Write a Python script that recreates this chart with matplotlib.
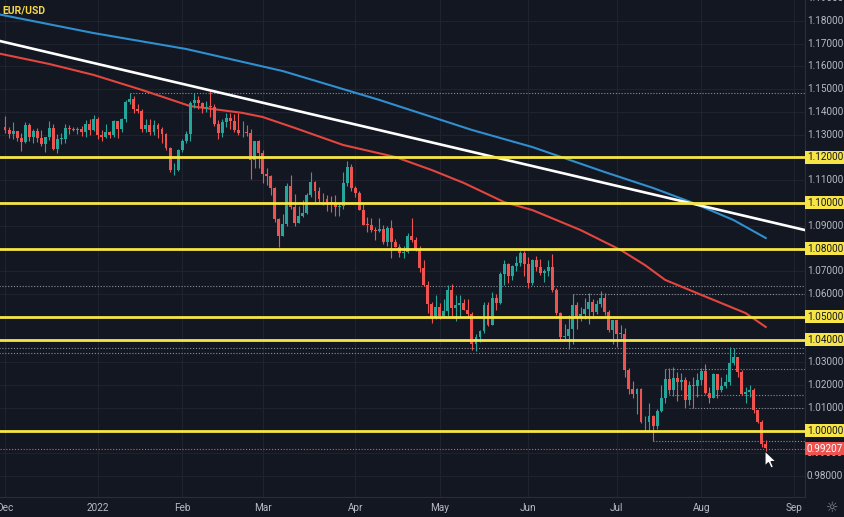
import numpy as np
import pandas as pd
import matplotlib
matplotlib.use("Agg")
import matplotlib.pyplot as plt
from matplotlib.patches import Rectangle, Polygon
from matplotlib.transforms import blended_transform_factory

# ---------------- data (EUR/USD daily) ----------------
dates = pd.bdate_range("2021-12-01", "2022-08-23")

opens = [
    1.1336, 1.1320, 1.1303, 1.1316, 1.1286, 1.1270, 1.1343, 1.1292, 1.1316, 1.1284,
    1.1258, 1.1289, 1.1330, 1.1238, 1.1282, 1.1283, 1.1329, 1.1326, 1.1319, 1.1327,
    1.1310, 1.1349, 1.1323,
    1.1370, 1.1297, 1.1288, 1.1312, 1.1297, 1.1359, 1.1325, 1.1368, 1.1443, 1.1455,
    1.1414, 1.1406, 1.1325, 1.1343, 1.1311, 1.1345, 1.1324, 1.1303, 1.1241, 1.1143,
    1.1146,
    1.1234, 1.1271, 1.1303, 1.1441, 1.1451, 1.1440, 1.1417, 1.1424, 1.1423, 1.1349,
    1.1307, 1.1358, 1.1375, 1.1361, 1.1321, 1.1307, 1.1309, 1.1308, 1.1191, 1.1272,
    1.1219, 1.1126, 1.1118, 1.1064, 1.0929, 1.0855, 1.0906, 1.1076, 1.0984, 1.0912,
    1.0942, 1.0955, 1.1036, 1.1093, 1.1051, 1.1017, 1.1016, 1.1005, 1.0996, 1.0983,
    1.0985, 1.1088, 1.1158,
    1.1067, 1.1046, 1.0971, 1.0904, 1.0903, 1.0880, 1.0877, 1.0886, 1.0829, 1.0890,
    1.0827, 1.0808, 1.0780, 1.0786, 1.0855, 1.0836, 1.0796, 1.0715, 1.0641, 1.0558,
    1.0496,
    1.0545, 1.0504, 1.0525, 1.0617, 1.0540, 1.0550, 1.0562, 1.0529, 1.0513, 1.0381,
    1.0413, 1.0436, 1.0552, 1.0465, 1.0584, 1.0562, 1.0690, 1.0733, 1.0677, 1.0725,
    1.0735, 1.0780,
    1.0733, 1.0648, 1.0749, 1.0719, 1.0694, 1.0703, 1.0717, 1.0616, 1.0518, 1.0410,
    1.0414, 1.0446, 1.0551, 1.0494, 1.0513, 1.0535, 1.0567, 1.0521, 1.0554, 1.0583,
    1.0519, 1.0443,
    1.0484, 1.0425, 1.0425, 1.0265, 1.0182, 1.0162, 1.0184, 1.0036, 1.0037, 1.0063,
    1.0019, 1.0085, 1.0141, 1.0226, 1.0178, 1.0230, 1.0212, 1.0221, 1.0134, 1.0199,
    1.0195,
    1.0220, 1.0261, 1.0163, 1.0143, 1.0248, 1.0180, 1.0196, 1.0211, 1.0298, 1.0321,
    1.0259, 1.0159, 1.0171, 1.0178, 1.0088, 1.0037, 0.9942,
]
highs = [
    1.1383, 1.1334, 1.1354, 1.1318, 1.1306, 1.1355, 1.1352, 1.1326, 1.1329, 1.1321,
    1.1291, 1.1360, 1.1346, 1.1303, 1.1306, 1.1346, 1.1342, 1.1336, 1.1336, 1.1339,
    1.1367, 1.1369, 1.1386,
    1.1376, 1.1322, 1.1346, 1.1316, 1.1364, 1.1362, 1.1375, 1.1454, 1.1482, 1.1469,
    1.1436, 1.1413, 1.1369, 1.1370, 1.1364, 1.1350, 1.1335, 1.1306, 1.1245, 1.1174,
    1.1238,
    1.1280, 1.1315, 1.1450, 1.1483, 1.1471, 1.1446, 1.1449, 1.1495, 1.1433, 1.1367,
    1.1368, 1.1395, 1.1394, 1.1390, 1.1396, 1.1361, 1.1344, 1.1324, 1.1273, 1.1275,
    1.1233, 1.1152, 1.1125, 1.1070, 1.0932, 1.0952, 1.1090, 1.1121, 1.1040, 1.0987,
    1.1014, 1.1044, 1.1137, 1.1097, 1.1070, 1.1042, 1.1033, 1.1031, 1.1036, 1.0998,
    1.1137, 1.1185, 1.1171,
    1.1076, 1.1053, 1.0994, 1.0937, 1.0935, 1.0893, 1.0935, 1.0903, 1.0897, 1.0924,
    1.0840, 1.0819, 1.0811, 1.0866, 1.0936, 1.0850, 1.0809, 1.0748, 1.0656, 1.0567,
    1.0594,
    1.0560, 1.0576, 1.0641, 1.0642, 1.0594, 1.0595, 1.0578, 1.0579, 1.0522, 1.0422,
    1.0441, 1.0563, 1.0566, 1.0607, 1.0600, 1.0697, 1.0748, 1.0737, 1.0728, 1.0765,
    1.0787, 1.0787,
    1.0764, 1.0754, 1.0765, 1.0752, 1.0709, 1.0749, 1.0774, 1.0628, 1.0520, 1.0470,
    1.0506, 1.0602, 1.0563, 1.0545, 1.0583, 1.0606, 1.0578, 1.0572, 1.0615, 1.0606,
    1.0531, 1.0486,
    1.0487, 1.0463, 1.0449, 1.0275, 1.0216, 1.0188, 1.0185, 1.0062, 1.0121, 1.0069,
    1.0096, 1.0200, 1.0269, 1.0273, 1.0279, 1.0257, 1.0254, 1.0236, 1.0219, 1.0234,
    1.0254,
    1.0274, 1.0294, 1.0191, 1.0254, 1.0250, 1.0233, 1.0248, 1.0368, 1.0364, 1.0324,
    1.0267, 1.0190, 1.0202, 1.0188, 1.0090, 1.0045, 0.9960,
]
lows = [
    1.1307, 1.1285, 1.1281, 1.1272, 1.1227, 1.1263, 1.1273, 1.1262, 1.1270, 1.1250,
    1.1222, 1.1278, 1.1235, 1.1221, 1.1260, 1.1264, 1.1305, 1.1315, 1.1305, 1.1295,
    1.1289, 1.1300, 1.1317,
    1.1280, 1.1272, 1.1286, 1.1285, 1.1291, 1.1285, 1.1314, 1.1355, 1.1437, 1.1397,
    1.1395, 1.1314, 1.1310, 1.1300, 1.1300, 1.1286, 1.1264, 1.1235, 1.1135, 1.1121,
    1.1139,
    1.1222, 1.1265, 1.1271, 1.1418, 1.1411, 1.1395, 1.1402, 1.1376, 1.1340, 1.1280,
    1.1290, 1.1332, 1.1325, 1.1314, 1.1300, 1.1288, 1.1293, 1.1106, 1.1155, 1.1152,
    1.1090, 1.1077, 1.1037, 1.0916, 1.0806, 1.0855, 1.0900, 1.0975, 1.0900, 1.0911,
    1.0937, 1.0952, 1.1028, 1.1003, 1.1000, 1.0993, 1.0964, 1.0961, 1.0945, 1.0945,
    1.0975, 1.1075, 1.1052,
    1.1027, 1.0968, 1.0902, 1.0873, 1.0874, 1.0837, 1.0872, 1.0821, 1.0810, 1.0757,
    1.0805, 1.0761, 1.0757, 1.0779, 1.0829, 1.0787, 1.0697, 1.0637, 1.0515, 1.0471,
    1.0489,
    1.0491, 1.0494, 1.0505, 1.0493, 1.0483, 1.0500, 1.0528, 1.0505, 1.0355, 1.0349,
    1.0389, 1.0427, 1.0459, 1.0462, 1.0531, 1.0557, 1.0641, 1.0647, 1.0662, 1.0699,
    1.0724, 1.0680,
    1.0627, 1.0641, 1.0701, 1.0685, 1.0653, 1.0681, 1.0610, 1.0506, 1.0398, 1.0397,
    1.0358, 1.0382, 1.0444, 1.0481, 1.0491, 1.0469, 1.0495, 1.0514, 1.0543, 1.0507,
    1.0435, 1.0382,
    1.0366, 1.0405, 1.0236, 1.0161, 1.0144, 1.0072, 1.0034, 1.0000, 0.9998, 0.9952,
    1.0006, 1.0080, 1.0123, 1.0160, 1.0153, 1.0130, 1.0180, 1.0097, 1.0112, 1.0097,
    1.0148,
    1.0198, 1.0161, 1.0123, 1.0143, 1.0141, 1.0170, 1.0188, 1.0200, 1.0290, 1.0234,
    1.0154, 1.0123, 1.0148, 1.0079, 1.0035, 0.9926, 0.9900,
]
closes = [
    1.1320, 1.1303, 1.1316, 1.1286, 1.1270, 1.1343, 1.1292, 1.1316, 1.1284, 1.1258,
    1.1289, 1.1330, 1.1238, 1.1282, 1.1283, 1.1329, 1.1326, 1.1319, 1.1327, 1.1310,
    1.1349, 1.1323, 1.1370,
    1.1297, 1.1288, 1.1312, 1.1297, 1.1359, 1.1325, 1.1368, 1.1443, 1.1455, 1.1414,
    1.1406, 1.1325, 1.1343, 1.1311, 1.1345, 1.1324, 1.1303, 1.1241, 1.1143, 1.1146,
    1.1234,
    1.1271, 1.1303, 1.1441, 1.1451, 1.1440, 1.1417, 1.1424, 1.1423, 1.1349, 1.1307,
    1.1358, 1.1375, 1.1361, 1.1321, 1.1307, 1.1309, 1.1308, 1.1191, 1.1272, 1.1219,
    1.1126, 1.1118, 1.1064, 1.0929, 1.0855, 1.0906, 1.1076, 1.0984, 1.0912, 1.0942,
    1.0955, 1.1036, 1.1093, 1.1051, 1.1017, 1.1016, 1.1005, 1.0996, 1.0983, 1.0985,
    1.1088, 1.1158, 1.1067,
    1.1046, 1.0971, 1.0904, 1.0903, 1.0880, 1.0877, 1.0886, 1.0829, 1.0890, 1.0827,
    1.0808, 1.0780, 1.0786, 1.0855, 1.0836, 1.0796, 1.0715, 1.0641, 1.0558, 1.0496,
    1.0545,
    1.0504, 1.0525, 1.0617, 1.0540, 1.0550, 1.0562, 1.0529, 1.0513, 1.0381, 1.0413,
    1.0436, 1.0552, 1.0465, 1.0584, 1.0562, 1.0690, 1.0733, 1.0677, 1.0725, 1.0735,
    1.0780, 1.0733,
    1.0648, 1.0749, 1.0719, 1.0694, 1.0703, 1.0717, 1.0616, 1.0518, 1.0410, 1.0414,
    1.0446, 1.0551, 1.0494, 1.0513, 1.0535, 1.0567, 1.0521, 1.0554, 1.0583, 1.0519,
    1.0443, 1.0484,
    1.0425, 1.0425, 1.0265, 1.0182, 1.0162, 1.0184, 1.0036, 1.0037, 1.0063, 1.0019,
    1.0085, 1.0141, 1.0226, 1.0178, 1.0230, 1.0212, 1.0221, 1.0134, 1.0199, 1.0195,
    1.0220,
    1.0261, 1.0163, 1.0143, 1.0248, 1.0180, 1.0196, 1.0211, 1.0298, 1.0321, 1.0259,
    1.0159, 1.0171, 1.0178, 1.0088, 1.0037, 0.9942, 0.9921,
]

# moving averages at a few bars
ma200_idx = [-2, 22, 45, 69, 93, 116, 131, 149, 161, 171, 181, 189]
ma200_val = [1.1831, 1.1747, 1.1677, 1.1580, 1.1453, 1.1321, 1.1246, 1.1136,
             1.1066, 1.1000, 1.0925, 1.0846]
ma100_idx = [-2, 11, 22, 34, 46, 59, 64, 72, 84, 97, 106, 114, 124, 131, 143,
             153, 159, 164, 173, 184, 189]
ma100_val = [1.1659, 1.1611, 1.1563, 1.1497, 1.1426, 1.1396, 1.1378, 1.1330,
             1.1255, 1.1202, 1.1145, 1.1088, 1.1004, 1.0969, 1.0881, 1.0793,
             1.0727, 1.0662, 1.0596, 1.0516, 1.0455]

trend_idx = [-2, 199]
trend_val = [1.1715, 1.0880]

levels = [1.12, 1.10, 1.08, 1.05, 1.04, 1.00]
dotted_levels = [1.1482, 1.0636, 1.0602, 1.0364, 1.0340, 1.0269, 1.0156, 1.0097, 0.9952]
dotted_from = [31, -2, 141, -2, -2, 164, 165, 170, 161]
last_price = 0.99207

price_ticks = [0.98, 0.99, 1.00, 1.01, 1.02, 1.03, 1.04, 1.05, 1.06, 1.07, 1.08,
               1.09, 1.10, 1.11, 1.12, 1.13, 1.14, 1.15, 1.16, 1.17, 1.18, 1.19]
month_labels = ["Dec", "2022", "Feb", "Mar", "Apr", "May", "Jun", "Jul", "Aug", "Sep"]

# ---------------- style ----------------
BG = "#131722"
GRID = "#1f2330"
TXT = "#b7bac2"
UP = "#26a69a"
DOWN = "#ef5350"
YEL = "#f7e547"
FONT = ["Roboto", "DejaVu Sans"]
FS = 7.2

W, H = 845, 517
fig = plt.figure(figsize=(W / 100, H / 100), dpi=100, facecolor=BG)
ax = fig.add_axes([0, 20 / H, 805 / W, 497 / H], facecolor=BG)

x = np.arange(len(closes))
o = np.array(opens)
c = np.array(closes)
hi = np.array(highs)
lo = np.array(lows)

xmin, xmax = -1.25, 198.75
ax.set_xlim(xmin, xmax)
ax.set_ylim(0.97077, 1.18923)

# grid
for p in price_ticks:
    ax.axhline(p, color=GRID, lw=0.8, zorder=0)
month_pos = []
for m in range(len(month_labels) - 1):
    mon = ((11 + m) % 12) + 1
    yr = 2021 if m == 0 else 2022
    month_pos.append(int(np.argmax((dates.month == mon) & (dates.year == yr))))
month_pos.append(len(pd.bdate_range("2021-12-01", "2022-08-31")))
for mp in month_pos:
    ax.axvline(mp, color=GRID, lw=0.8, zorder=0)

# dotted horizontal levels
for lv, st in zip(dotted_levels, dotted_from):
    ax.plot([st, xmax], [lv, lv], color="#8c8f98", lw=0.8, ls=(0, (1, 1.6)), zorder=1)
ax.axhline(last_price, color=DOWN, lw=0.8, ls=(0, (1, 1.6)), zorder=1)

# moving averages + trend line
ax.plot(ma200_idx, ma200_val, color="#2f8fcf", lw=1.5, zorder=2)
ax.plot(ma100_idx, ma100_val, color="#e3463f", lw=1.5, zorder=2)
ax.plot(trend_idx, trend_val, color="white", lw=1.9, zorder=4)

# key levels
for lv in levels:
    ax.axhline(lv, color=YEL, lw=2.0, zorder=4)

# candles
colors = np.where(c >= o, UP, DOWN)
ax.vlines(x, lo, hi, colors=colors, lw=0.8, zorder=3)
body = np.maximum(np.abs(c - o), 0.00025)
ax.bar(x, body, bottom=np.minimum(o, c), width=0.72, color=colors, lw=0, zorder=3)

for s in ax.spines.values():
    s.set_visible(False)
for side in ("right", "bottom"):
    ax.spines[side].set_visible(True)
    ax.spines[side].set_color("#2a2e39")
ax.set_xticks([])
ax.set_yticks([])

# right price scale
ty = blended_transform_factory(fig.transFigure, ax.transData)
lab_x = 825 / W
for p in price_ticks:
    ax.text(lab_x, p, f"{p:.5f}", transform=ty, ha="center", va="center",
            fontsize=FS, color=TXT, family=FONT, clip_on=False, zorder=5)
box_h = 13 / 2275
for lv in levels:
    ax.add_patch(Rectangle((805 / W, lv - box_h / 2), 40 / W, box_h, transform=ty,
                           facecolor=YEL, edgecolor="none", clip_on=False, zorder=6))
    ax.text(lab_x, lv, f"{lv:.5f}", transform=ty, ha="center", va="center",
            fontsize=FS, color=BG, family=FONT, clip_on=False, zorder=7)
ax.add_patch(Rectangle((805 / W, last_price - box_h / 2), 40 / W, box_h, transform=ty,
                       facecolor=DOWN, edgecolor="none", clip_on=False, zorder=6))
ax.text(lab_x, last_price, f"{last_price:.5f}", transform=ty, ha="center", va="center",
        fontsize=FS, color="white", family=FONT, clip_on=False, zorder=7)

# time axis
tx = blended_transform_factory(ax.transData, fig.transFigure)
for mp, lab in zip(month_pos, month_labels):
    ax.text(mp, 9 / H, lab, transform=tx, ha="center", va="center", fontsize=FS,
            color=TXT, family=FONT, clip_on=False)
fig.text(832 / W, 9 / H, "\u263c", ha="center", va="center", fontsize=10, color="#8f929b")

# symbol
ax.text(0.003, 0.988, "EUR/USD", transform=ax.transAxes, ha="left", va="top",
        fontsize=7.5, color="#f5d94a", family=FONT, fontweight="bold")

# mouse pointer
ptr = [(0, 0), (0, 15), (3.5, 11.5), (6, 17), (8.5, 16), (6, 10.5), (11, 10.5)]
fig.patches.append(Polygon([((765 + dx) / W, 1 - (451 + dy) / H) for dx, dy in ptr],
                           closed=True, transform=fig.transFigure, facecolor="white",
                           edgecolor=BG, lw=0.8, zorder=10))

fig.savefig("out.png", dpi=100, facecolor=BG)
